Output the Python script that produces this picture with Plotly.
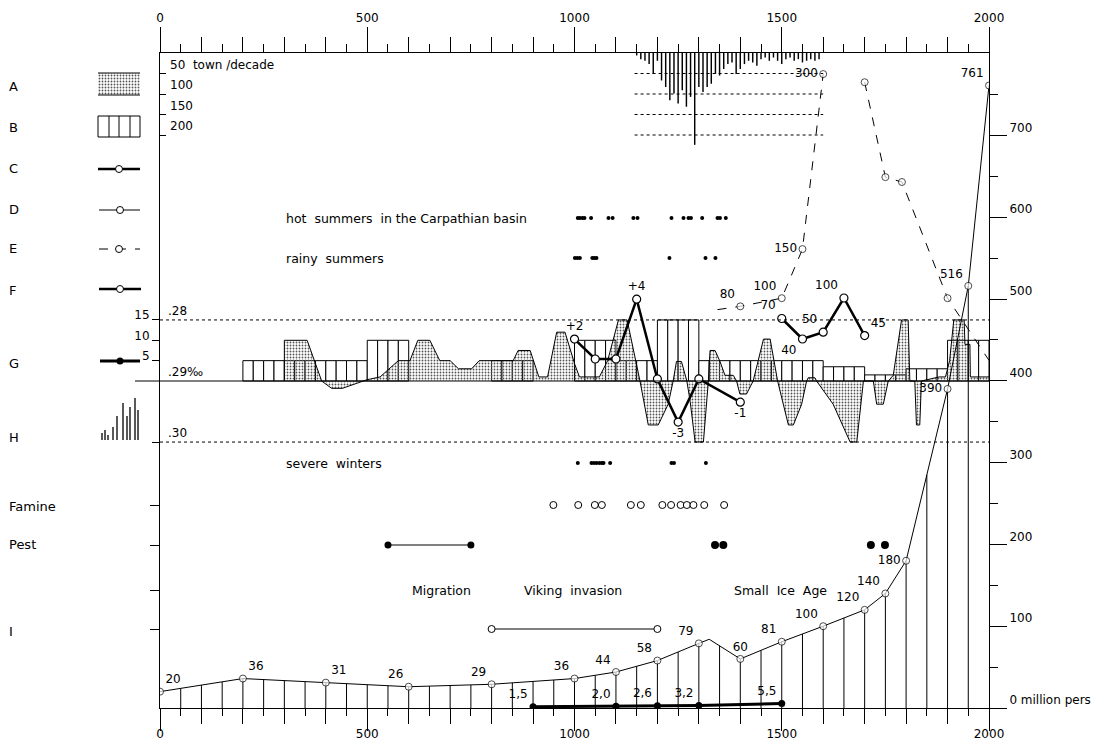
import numpy as np
import plotly.graph_objects as go

# ------------------------------------------------------------------ data
POP_YEARS = [0, 200, 400, 600, 800, 1000, 1100, 1200, 1300, 1325, 1400, 1500, 1600, 1700, 1750, 1800, 1900, 1950, 2000]
POP_VALUES = [20, 36, 31, 26, 29, 36, 44, 58, 79, 84, 60, 81, 100, 120, 140, 180, 390, 516, 761]
POP_LABELS = ["20", "36", "31", "26", "29", "36", "44", "58", "79", "", "60", "81", "100", "120", "140", "180", "390", "516", "761"]

HUN_YEARS = [900, 1100, 1200, 1300, 1500]
HUN_VALUES = [1.5, 2.0, 2.6, 3.2, 5.5]
HUN_LABELS = ["1,5", "2,0", "2,6", "3,2", "5,5"]

TOWN_DECADES = list(range(1150, 1600, 10))
TOWN_COUNTS = [6, 15, 19, 27, 51, 19, 67, 83, 115, 99, 123, 91, 131, 107, 224, 83, 95, 83, 75, 51,
               55, 39, 27, 23, 51, 39, 27, 19, 23, 31, 15, 11, 19, 11, 19, 27, 15, 11, 19, 15,
               23, 19, 15, 19, 15]
TOWN_SCALE = [50, 100, 150, 200]

B_START = [200, 500, 800, 1000, 1100, 1200, 1300, 1600, 1700, 1800, 1900]
B_END = [500, 600, 900, 1100, 1200, 1300, 1600, 1700, 1800, 1900, 2000]
B_LEVEL = [5, 10, 5, 10, 5, 15, 5, 3.5, 1.5, 3, 10]

A_YEARS = [300, 300, 355, 390, 414, 440, 499, 531, 575, 603, 622, 651, 675, 700, 720, 752, 770, 852,
           864, 893, 914, 935, 957, 977, 1001, 1012, 1060, 1080, 1106, 1127, 1158, 1178, 1202, 1226,
           1238, 1246, 1258, 1271, 1279, 1291, 1311, 1323, 1327, 1339, 1351, 1363, 1383, 1391, 1399,
           1415, 1431, 1456, 1472, 1490, 1516, 1528, 1548, 1560, 1564, 1580, 1584, 1624, 1665, 1681,
           1697, 1721, 1729, 1745, 1757, 1769, 1789, 1805, 1809, 1821, 1825, 1833, 1837, 1880, 1895,
           1905, 1915, 1940, 1942, 1954, 1955, 2000]
A_LEVELS = [0, 10, 10, 0, -1.8, -1.8, 0.3, 1, 5, 5, 10, 10, 5, 5, 3, 3, 5, 5,
            7.5, 7.5, 1, 1, 12, 12, 4, 1, 1, 5, 15, 15, 0, -10.8, -10.8, -5.7,
            0, 4.8, 4.8, 0, -5, -15, -15, 0, 7.5, 7.5, 4.8, 1.4, 1.4, 0, -3.2,
            -3.2, 0, 10.3, 10.3, 0, -10.8, -10.8, -5.7, 0, 0.8, 0.8, 0, -5.7, -15, -15,
            0, 0, -5.7, -5.7, 0, 1.4, 15, 15, 0, 0, -10.8, -10.8, 0, 1, 1,
            5, 15, 15, 9, 9, 1, 1]

F_YEARS = [1000, 1050, 1100, 1150, 1200, 1250, 1300, 1400]
F_VALUES = [10.3, 5.4, 5.4, 20.1, 0.5, -10.1, 0.5, -5.2]
F_LABELS = ["+2", "", "", "+4", "", "-3", "", "-1"]

D_YEARS = [1500, 1550, 1600, 1650, 1700]
D_VALUES = [70, 40, 50, 100, 45]

E_YEARS = [1345, 1400, 1500, 1550, 1600, 1650, 1700, 1750, 1790, 1900, 2000]
E_VALUES = [487, 491, 501, 561, 775, None, 765, 649, 643, 501, 425]
E_LABELS = ["", "80", "100", "150", "300", "", "", "", "", "", ""]

HOT_SUMMERS = [1008, 1013, 1019, 1024, 1040, 1082, 1092, 1142, 1152, 1234, 1263, 1275, 1281, 1308, 1345, 1351, 1365]
RAINY_SUMMERS = [1001, 1007, 1013, 1043, 1048, 1053, 1229, 1316, 1340]
SEVERE_WINTERS = [1008, 1041, 1047, 1053, 1060, 1066, 1070, 1086, 1234, 1240, 1317]
FAMINE = [949, 1009, 1049, 1066, 1136, 1160, 1212, 1233, 1256, 1271, 1287, 1313, 1361]
PEST = [1339, 1359, 1715, 1749]
PEST_MIGRATION = [550, 750]
VIKING = [800, 1200]

ROW_LABELS = ["A", "B", "C", "D", "E", "F", "G", "H", "Famine", "Pest", "I"]

# ------------------------------------------------------------------ layout geometry
# the page adds an 8px body margin, so the figure is 16px smaller than the window
OFF = 8
W, H = 1106, 754
FW, FH = W - 2 * OFF, H - 2 * OFF
X0, X1 = 160, 989          # window pixels of year 0 and year 2000
YT, YB = 53, 708           # window pixels of top and bottom axis lines
FONT = "DejaVu Sans"

ROW_Y = {"hot": 490, "rainy": 450, "winter": 245, "famine": 203, "pest": 163, "events": 118, "viking": 79}
ROW_LABEL_PX = [86, 127, 168, 209, 249, 290, 363, 438, 506, 544, 631]


def px_x(px):
    return (px - OFF) / FW


def px_y(py):
    return 1 - (py - OFF) / FH


def yrange(px_zero, ppu):
    return [(px_zero - YB) / ppu, (px_zero - YT) / ppu]


xdom = [px_x(X0), px_x(X1)]
ydom = [px_y(YB), px_y(YT)]

STIPPLE = dict(shape=".", size=3, solidity=0.3, fgcolor="#555", bgcolor="rgba(0,0,0,0)")

fig = go.Figure()

# ---- B: hatched bars (25-year cells)
bx, by = [], []
for s, e, lv in zip(B_START, B_END, B_LEVEL):
    for c in np.arange(s, e, 25):
        bx.append(c + 12.5)
        by.append(lv)
fig.add_trace(go.Bar(x=bx, y=by, width=25, marker=dict(color="white", line=dict(color="black", width=1)),
                     xaxis="x", yaxis="y", hoverinfo="skip"))

# ---- A: stippled profile
fig.add_trace(go.Scatter(x=A_YEARS, y=A_LEVELS, mode="lines", fill="tozeroy",
                         line=dict(color="black", width=1),
                         fillcolor="rgba(0,0,0,0)", fillpattern=STIPPLE,
                         xaxis="x", yaxis="y", hoverinfo="skip"))

# ---- F line
F_POS = ["top center", "top center", "top center", "top center", "top center", "bottom center", "top center", "bottom center"]
fig.add_trace(go.Scatter(x=F_YEARS, y=F_VALUES, mode="lines+markers+text", text=F_LABELS,
                         textposition=F_POS, textfont=dict(size=12, family=FONT),
                         line=dict(color="black", width=2.5),
                         marker=dict(size=8, color="white", line=dict(color="black", width=1.2)),
                         xaxis="x", yaxis="y"))

# ---- population drop lines
drop_years = np.arange(50, 2000, 50)
drop_vals = np.interp(drop_years, POP_YEARS, POP_VALUES)
dx, dy = [], []
for yr, v in zip(drop_years, drop_vals):
    dx += [yr, yr, None]
    dy += [0, v, None]
fig.add_trace(go.Scatter(x=dx, y=dy, mode="lines", line=dict(color="black", width=1),
                         xaxis="x", yaxis="y2", hoverinfo="skip"))

# ---- population line
POP_POS = ["top right", "top right", "top right", "top left", "top left", "top left", "top left", "top left",
           "top left", "top center", "top center", "top left", "top left", "top left", "top left", "middle left",
           "middle left", "top left", "top left"]
pop_sizes = [0 if lab == "" else 7 for lab in POP_LABELS]
fig.add_trace(go.Scatter(x=POP_YEARS, y=POP_VALUES, mode="lines+markers+text", text=POP_LABELS,
                         textposition=POP_POS, textfont=dict(size=12, family=FONT),
                         line=dict(color="black", width=1),
                         marker=dict(size=pop_sizes, color="white", line=dict(color="black", width=1)),
                         xaxis="x", yaxis="y2"))

# ---- E dashed line
e_sizes = [0 if (i == 0 or i == len(E_YEARS) - 1) else 7 for i in range(len(E_YEARS))]
fig.add_trace(go.Scatter(x=E_YEARS, y=E_VALUES, mode="lines+markers+text", text=E_LABELS,
                         textposition=["top left", "top left", "top left", "middle left", "middle left"] + ["top left"] * 6,
                         textfont=dict(size=12, family=FONT), connectgaps=False,
                         line=dict(color="black", width=1, dash="dash"),
                         marker=dict(size=e_sizes, color="white", line=dict(color="black", width=1)),
                         xaxis="x", yaxis="y2"))

# ---- Hungary line (G)
fig.add_trace(go.Scatter(x=HUN_YEARS, y=HUN_VALUES, mode="lines+markers+text", text=HUN_LABELS,
                         textposition="top left", textfont=dict(size=12, family=FONT),
                         line=dict(color="black", width=3), marker=dict(size=7, color="black"),
                         xaxis="x", yaxis="y2"))

# ---- event rows
def row(yrs, key):
    return [ROW_Y[key]] * len(yrs)

fig.add_trace(go.Scatter(x=HOT_SUMMERS, y=row(HOT_SUMMERS, "hot"), mode="markers",
                         marker=dict(size=4, color="black"), xaxis="x", yaxis="y3"))
fig.add_trace(go.Scatter(x=RAINY_SUMMERS, y=row(RAINY_SUMMERS, "rainy"), mode="markers",
                         marker=dict(size=4, color="black"), xaxis="x", yaxis="y3"))
fig.add_trace(go.Scatter(x=SEVERE_WINTERS, y=row(SEVERE_WINTERS, "winter"), mode="markers",
                         marker=dict(size=4, color="black"), xaxis="x", yaxis="y3"))
fig.add_trace(go.Scatter(x=FAMINE, y=row(FAMINE, "famine"), mode="markers",
                         marker=dict(size=7, color="white", line=dict(color="black", width=1)),
                         xaxis="x", yaxis="y3"))
fig.add_trace(go.Scatter(x=PEST, y=row(PEST, "pest"), mode="markers",
                         marker=dict(size=8, color="black"), xaxis="x", yaxis="y3"))
fig.add_trace(go.Scatter(x=PEST_MIGRATION, y=row(PEST_MIGRATION, "pest"), mode="lines+markers",
                         line=dict(color="black", width=1), marker=dict(size=7, color="black"),
                         xaxis="x", yaxis="y3"))
fig.add_trace(go.Scatter(x=VIKING, y=row(VIKING, "viking"), mode="lines+markers",
                         line=dict(color="black", width=1),
                         marker=dict(size=7, color="white", line=dict(color="black", width=1)),
                         xaxis="x", yaxis="y3"))

# ---- town foundation bars (hanging from top)
fig.add_trace(go.Bar(x=TOWN_DECADES, y=TOWN_COUNTS, width=3.5, marker=dict(color="black", line=dict(width=0)),
                     xaxis="x", yaxis="y4", hoverinfo="skip"))
for lv in TOWN_SCALE:
    fig.add_trace(go.Scatter(x=[TOWN_DECADES[0] - 5, TOWN_DECADES[-1] + 10], y=[lv, lv], mode="lines",
                             line=dict(color="black", width=1, dash="dot"), xaxis="x", yaxis="y4",
                             hoverinfo="skip"))

# ---- D line
D_POS = ["top left", "bottom left", "top left", "top left", "top right"]
fig.add_trace(go.Scatter(x=D_YEARS, y=D_VALUES, mode="lines+markers+text", text=[str(v) for v in D_VALUES],
                         textposition=D_POS, textfont=dict(size=12, family=FONT),
                         line=dict(color="black", width=2.5),
                         marker=dict(size=8, color="white", line=dict(color="black", width=1.2)),
                         xaxis="x", yaxis="y5"))

# ---- dummy traces to activate extra tick axes
for xa in ["x2", "x3", "x4"]:
    fig.add_trace(go.Scatter(x=[1000], y=[0], mode="markers", marker=dict(opacity=0), xaxis=xa, yaxis="y",
                             hoverinfo="skip"))

# ---- legend glyphs in the left margin (window-pixel axes)
def lg(x, y, **kw):
    fig.add_trace(go.Scatter(x=x, y=y, xaxis="x9", yaxis="y9", hoverinfo="skip", **kw))

lg([98, 140, 140, 98, 98], [73, 73, 95, 95, 73], mode="lines", fill="toself", fillcolor="rgba(0,0,0,0)",
   fillpattern=STIPPLE, line=dict(color="rgba(0,0,0,0)", width=0))
lg([98, 140, None, 98, 140], [73, 73, None, 95, 95], mode="lines", line=dict(color="black", width=1))
lg([98, 140, 140, 98, 98, None, 109, 109, None, 119, 119, None, 130, 130],
   [116, 116, 137, 137, 116, None, 116, 137, None, 116, 137, None, 116, 137],
   mode="lines", line=dict(color="black", width=1))
lg([98, 140], [169, 169], mode="lines", line=dict(color="black", width=2.5))
lg([119], [169], mode="markers", marker=dict(size=7, color="white", line=dict(color="black", width=1)))
lg([99, 140], [210, 210], mode="lines", line=dict(color="black", width=1))
lg([120], [210], mode="markers", marker=dict(size=7, color="white", line=dict(color="black", width=1)))
lg([99, 140], [249, 249], mode="lines", line=dict(color="black", width=1, dash="dash"))
lg([119], [249], mode="markers", marker=dict(size=7, color="white", line=dict(color="black", width=1)))
lg([99, 141], [289, 289], mode="lines", line=dict(color="black", width=2.5))
lg([120], [289], mode="markers", marker=dict(size=7, color="white", line=dict(color="black", width=1)))
lg([100, 140], [361, 361], mode="lines", line=dict(color="black", width=3))
lg([120], [361], mode="markers", marker=dict(size=7, color="black"))
hx = [102, 105, 108, 113, 117, 123, 127, 130, 135, 138]
ht = [433, 430, 435, 427, 416, 403, 416, 407, 398, 410]
hxs, hys = [], []
for a, t in zip(hx, ht):
    hxs += [a, a, None]
    hys += [440, t, None]
lg(hxs, hys, mode="lines", line=dict(color="black", width=1.3))

# ------------------------------------------------------------------ annotations
ann = []
for lab, py in zip(ROW_LABELS, ROW_LABEL_PX):
    ann.append(dict(text=lab, x=px_x(7), y=px_y(py), xref="paper", yref="paper", xanchor="left",
                    yanchor="middle", showarrow=False, font=dict(size=13, family=FONT)))
for txt, key in [("hot  summers  in the Carpathian basin", "hot"), ("rainy  summers", "rainy"),
                 ("severe  winters", "winter")]:
    ann.append(dict(text=txt, x=298, y=ROW_Y[key], xref="x", yref="y3", xanchor="left", yanchor="middle",
                    showarrow=False, font=dict(size=12.5, family=FONT)))
for txt, yr in [("Migration", 678), ("Viking  invasion", 997), ("Small  Ice  Age", 1498)]:
    ann.append(dict(text=txt, x=yr, y=ROW_Y["events"], xref="x", yref="y3", xanchor="center",
                    yanchor="middle", showarrow=False, font=dict(size=12.5, family=FONT)))
for txt, lv in [("_28", 15), ("_29‰", 0), ("_30", -15)]:
    ann.append(dict(text=txt.replace("_", "."), x=14, y=lv, xref="x", yref="y", xanchor="left",
                    yanchor="bottom", showarrow=False, font=dict(size=12, family=FONT)))
for txt, lv in zip(["50  town /decade", "100", "150", "200"], TOWN_SCALE):
    ann.append(dict(text=txt, x=20, y=lv, xref="x", yref="y4", xanchor="left", yanchor="bottom",
                    showarrow=False, font=dict(size=12, family=FONT)))

shapes = [
    dict(type="line", xref="paper", yref="y", x0=px_x(135), x1=px_x(X1), y0=0, y1=0,
         line=dict(color="black", width=1.2)),
    dict(type="line", xref="x", yref="y", x0=0, x1=2000, y0=15, y1=15, line=dict(color="black", width=1, dash="dot")),
    dict(type="line", xref="x", yref="y", x0=0, x1=2000, y0=-15, y1=-15, line=dict(color="black", width=1, dash="dot")),
]

ax_common = dict(showgrid=False, zeroline=False, color="black", tickcolor="black", tickwidth=1, automargin=False)
fig.update_layout(
    template="none",
    width=FW, height=FH, margin=dict(l=0, r=0, t=0, b=0, pad=0), autosize=False,
    paper_bgcolor="white", plot_bgcolor="rgba(0,0,0,0)", showlegend=False, barmode="overlay",
    font=dict(family=FONT, size=12, color="black"),
    annotations=ann, shapes=shapes,
    xaxis=dict(domain=xdom, range=[0, 2000], anchor="y", side="bottom", showline=True, linecolor="black",
               ticks="outside", tickmode="linear", tick0=0, dtick=500, ticklen=22, ticklabelstandoff=-7,
               minor=dict(ticks="outside", dtick=50, tick0=0, ticklen=7, tickcolor="black"),
               tickfont=dict(size=12), **ax_common),
    xaxis2=dict(overlaying="x", range=[0, 2000], anchor="y", side="bottom", ticks="outside", tickmode="linear",
                tick0=0, dtick=100, ticklen=15, showticklabels=False, showline=False, **ax_common),
    xaxis3=dict(overlaying="x", range=[0, 2000], anchor="y", side="top", showline=True, linecolor="black",
                ticks="outside", tickmode="linear", tick0=0, dtick=500, ticklen=25,
                minor=dict(ticks="outside", dtick=50, tick0=0, ticklen=8, tickcolor="black"),
                tickfont=dict(size=12), **ax_common),
    xaxis4=dict(overlaying="x", range=[0, 2000], anchor="y", side="top", ticks="outside", tickmode="linear",
                tick0=0, dtick=100, ticklen=15, showticklabels=False, showline=False, **ax_common),
    yaxis=dict(domain=ydom, range=yrange(381, 4.07), anchor="x", side="left", showline=True, linecolor="black",
               ticks="outside", tickmode="array", tickvals=[15, 10, 5, -15], ticktext=["15", "10", "5", ""],
               ticklen=7, ticklabelshift=-5, tickfont=dict(size=12), **ax_common),
    yaxis2=dict(overlaying="y", range=yrange(708, 0.818), anchor="x", side="right", showline=True,
                linecolor="black", ticks="outside", tickmode="array", tickvals=list(range(0, 800, 100)),
                ticktext=["0 million pers"] + [str(v) for v in range(100, 800, 100)], ticklen=17,
                minor=dict(ticks="outside", tickmode="array", tickvals=list(range(50, 800, 100)), ticklen=8,
                           tickcolor="black"),
                ticklabelshift=-8, tickfont=dict(size=12), **ax_common),
    yaxis3=dict(overlaying="y", range=yrange(708, 1), anchor="x", side="left", ticks="outside",
                tickmode="array", tickvals=[ROW_Y["famine"], ROW_Y["pest"], ROW_Y["events"], ROW_Y["viking"]],
                ticklen=9, showticklabels=False, showline=False, **ax_common),
    yaxis4=dict(overlaying="y", range=yrange(53, -0.41), anchor="x", side="left", ticks="inside",
                tickmode="array", tickvals=TOWN_SCALE, ticklen=6, showticklabels=False, showline=False,
                **ax_common),
    yaxis5=dict(overlaying="y", range=yrange(366.3, 0.683), anchor="x", visible=False, automargin=False),
    xaxis9=dict(domain=[0, 1], range=[OFF, OFF + FW], anchor="y9", visible=False, automargin=False),
    yaxis9=dict(domain=[0, 1], range=[OFF + FH, OFF], anchor="x9", visible=False, automargin=False),
)

fig.write_html("out.html", config={"displayModeBar": False, "staticPlot": True})
